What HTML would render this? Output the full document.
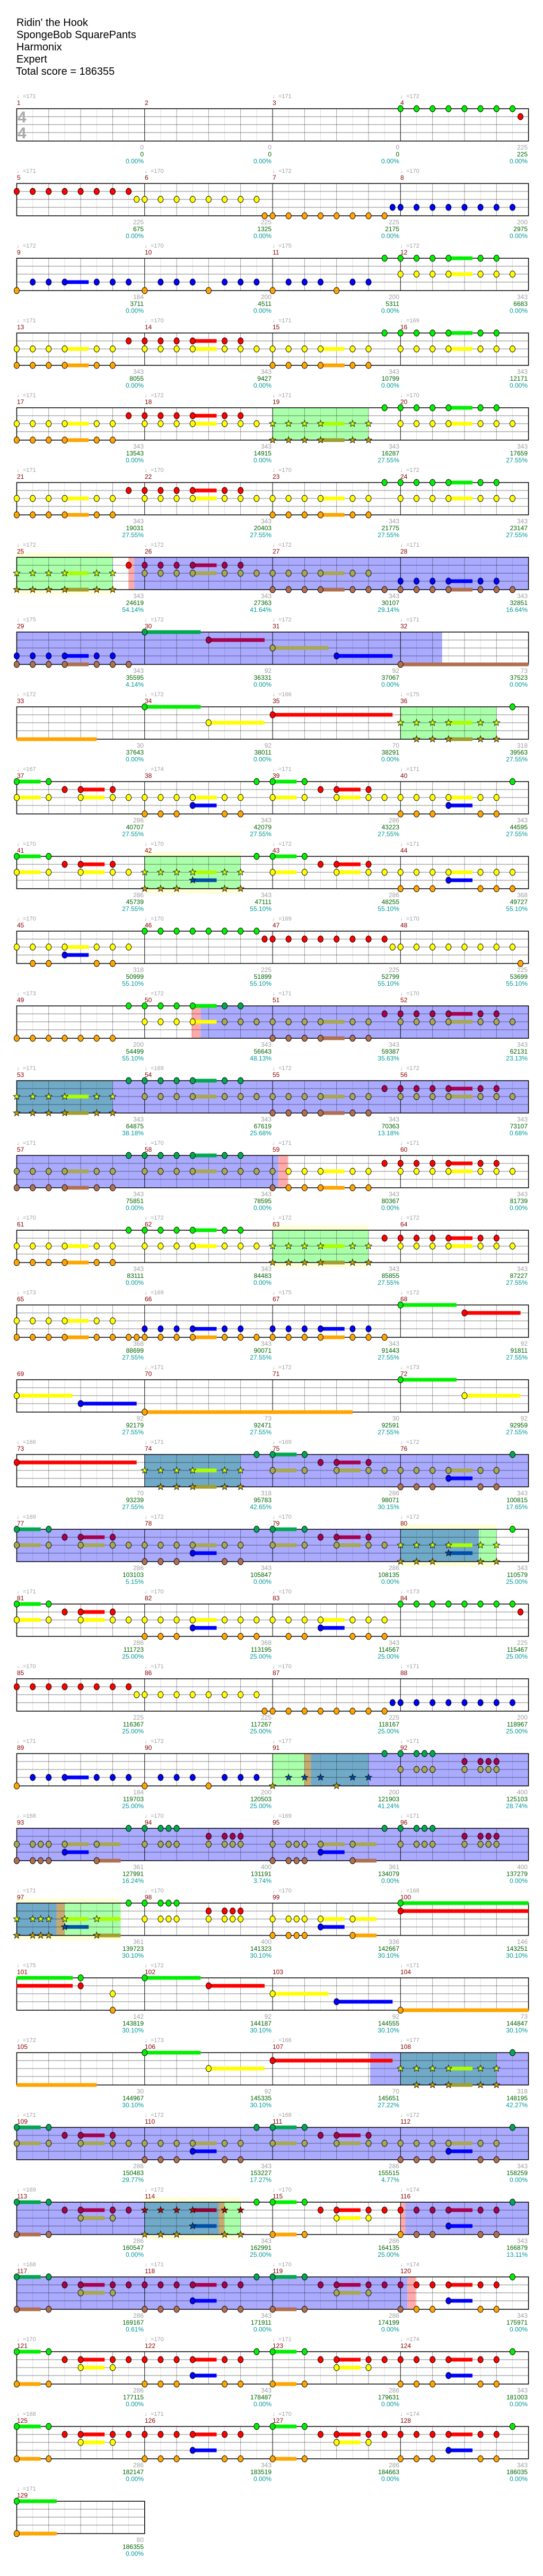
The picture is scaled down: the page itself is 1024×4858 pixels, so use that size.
<!DOCTYPE html>
<html><head><meta charset="utf-8">
<style>
html,body{margin:0;padding:0;background:#fff;}
svg{display:block;}
.h{font-family:"Liberation Sans",sans-serif;font-size:20px;fill:#000;}
.t{font-family:"Liberation Sans","DejaVu Sans",sans-serif;font-size:11px;fill:#a0a0a0;}
.m{font-family:"Liberation Sans",sans-serif;font-size:12px;fill:#8b0000;}
.a{font-family:"Liberation Sans",sans-serif;font-size:12px;fill:#a0a0a0;text-anchor:end;}
.b{font-family:"Liberation Sans",sans-serif;font-size:12px;fill:#006400;text-anchor:end;}
.c{font-family:"Liberation Sans",sans-serif;font-size:12px;fill:#009999;text-anchor:end;}
.ts{font-family:"Liberation Sans",sans-serif;font-size:30px;font-weight:bold;fill:#aaa;}
</style></head><body>
<svg id="s" width="1024" height="4858" xmlns="http://www.w3.org/2000/svg">
<rect width="1024" height="4858" fill="#fff"/>
<g id="dyn"></g>
<text class="h" x="31" y="49">Ridin' the Hook</text>
<text class="h" x="31" y="72">SpongeBob SquarePants</text>
<text class="h" x="31" y="95">Harmonix</text>
<text class="h" x="31" y="118">Expert</text>
<text class="h" x="30" y="141">Total score = 186355</text>
<text class="ts" x="33" y="231">4</text>
<text class="ts" x="33" y="261">4</text>
<g id="txt"></g>
</svg>
<div id="store" style="display:none"></div>
<script>
(function(){
var X0=31.5,W=30.16;
function px(p){return X0+p*W;}
var BGC={B:'#aaaaff',G:'#aaffaa',T:'#70aac8',P:'#ffaaaa',N:'#c8aa70',Y:'#ffffd8'};
var LC=['#00f000','#ff0000','#ffff00','#0000ff','#ffa500'];
var DC=['#00a850','#a8004c','#a8a850','#0000ff','#b07050'];
var SC=['#60e000','#c00000','#d8ff00','#0048a8','#c8a000'];
var SS=['#60e000','#900030','#aaff00','#0050a8','#a0a030'];
var A="y0,1,2,3~4.5,5,6,8,9,10,11~12.5,13,14,15,16,17,18,19~20.5,21,22,24,25,26,27~28.5,29,30,31 b0,1,2,3~4.5,5,6,16,17,18,19~20.5,21,22 r7,8,9,10,11~12.5,13,14 g23,24,25,26,27~28.5,29,30";
var C="y0,1,2,3~4.5,5,6,8,9,10,11~12.5,13,14,15,16,17,18,19~20.5,21,22,24,25,26,27~28.5,29,30,31 b0,1,2,3~4.5,5,6,16,17,18,19~20.5,21,22 g7,8,9,10,11~12.5,13,14 r23,24,25,26,27~28.5,29,30";
var D="g0~1.5,2,15,16~17.5,18,31 r3,4~5.5,6,19,20~21.5,22 y0~1.5,2,4~5.5,6,7,8,9,10,11~12.5,13,14,16~17.5,18,20~21.5,22,23,24,25,26,27~28.5,29,30 b8,9,10,13,14,24,25,26,29,30 o11~12.5,27~28.5";
var E="g0~1.5,2,15,16~17.5,18,31 r3,4~5.5,6,7,8,9,10,11~12.5,13,14,19,20~21.5,22,23,24,25,26,27~28.5,29,30 y4~5.5,6,20~21.5,22 b0~1.5,2,8,9,10,13,14,16~17.5,18,24,25,26,29,30 o11~12.5,27~28.5";
var R1="r0,1,2,3,4,5,6,7 y7.5,8,9,10,11,12,13,14,15 b15.5,16,17,18,19,20,21,22,23 o23.5,24,25,26,27,28,29,30,31";
var R2="b0,8,12,16,20 o1,2,3~4.5,5,6,7,9,10,11,13,14,15,17,18,19,21,22";
var rows=[
 ["g24,25,26,27,28,29,30,31 r31.5",[]],
 [R1,[]],
 [R2+" g23,24,25,26,27~28.5,29,30 y24,25,26,27~28.5,29,30,31",[]],
 [A,[]],
 [A,[['G',16,22]]],
 [A,[]],
 ["y0,1,2,3~4.5,5,6,8,9,10,11~12.5,13,14,15,16,17,18,19~20.5,21,22 b0,1,2,3~4.5,5,6,16,17,18,19~20.5,21,22,23,24,25,26,27~28.5,29,30,31 r7,8,9,10,11~12.5,13,14 o24,25,26,27~28.5,29,30",[['Y',0,6],['G',0,6],['P',7,7.35],['B',7.35,32]]],
 ["b0,1,2,3~4.5,5,6,7,24~32 o0,1,2,3~4.5,5,6,20~23.5 g8~11.5 r12~15.5 y16~19.5",[['B',0,26.6]]],
 ["b-0~5,25,26,27~28.5,29,30 g8~11.5,31 y12~15.5,24,25,26,27~28.5,29,30 r16~23.5",[['G',24,30]]],
 [D,[]],
 ["g0~1.5,2,15,16~17.5,18 r3,4~5.5,6,19,20~21.5,22 y0~1.5,2,4~5.5,6,7,8,9,10,11~12.5,13,14,16~17.5,18,20~21.5,22,23,24,25,26,27~28.5,29,30,31 b8,9,10,13,14,24,25,26,29,30,31 o11~12.5,27~28.5",[['Y',8,14],['G',8,14]]],
 ["y0,1,2,3~4.5,5,6,7,23.5,24,25,26,27,28,29,30,31 b1,2,5,6,31.5 o3~4.5 g8,9,10,11,12,13,14,15 r15.5,16,17,18,19,20,21,22,23",[]],
 ["b0,1,2,3,4,5,6,16,17,18,19~20.5,21,22 y8,9,10,11~12.5,13,14,15,16,17,18,19~20.5,21,22,24,25,26,27~28.5,29,30,31 g7,8,9,10,11~12.5,13,14 r23,24,25,26,27~28.5,29,30",[['P',10.93,11.5],['B',11.5,32]]],
 [C,[['T',0,6],['B',6,32]]],
 [C,[['B',0,16.37],['P',16.37,16.96]]],
 [C,[['Y',16,22],['G',16,22]]],
 ["y0,1,2,3~4.5,5,6 b0,1,2,3~4.5,5,6,7,7.5,8,9,10,11~12.5,13,14,15,16,17,18,19~20.5,21,22,23 o8,9,10,11~12.5,13,14,16,17,18,19~20.5,21,22 g24~27.5 r28~31.5",[]],
 ["y0~3.5,28~31.5 o4~7.5 b8~21 g24~27.5",[]],
 ["r0~7.5,19,20~21.5,22 y8,9,10,11~12.5,13,14,16~17.5,18,20~21.5,22,23,24,25,26,27~28.5,29,30 b9,10,11~12.5,13,14,24,25,26,29,30 g15,16~17.5,18,31 o27~28.5",[['T',8,14],['B',14,32]]],
 [D,[['B',0,24],['Y',24,30],['T',24,28.9],['G',28.9,30]]],
 ["g0~1.5,2,24,25,26,27,28,29,30,31 r3,4~5.5,6,31.5 y0~1.5,2,4~5.5,6,7,8,9,10,11~12.5,13,14,15,16,17,18,19~20.5,21,22,23 b8,9,10,13,14,15,17,18,21,22,23 o11~12.5,19~20.5",[]],
 [R1,[]],
 [R2+" g23,24,25,25.5,26 y24,25,25.5,26,28,29,29.5,30 r28,29,29.5,30",[['G',16,18],['N',18,18.4],['T',18.4,22],['B',22,32]]],
 ["y0,1,1.5,2,3~4.5,5~6.5,8,9,9.5,10,12,13,13.5,14,16,17,17.5,18,19~20.5,21~22.5,24,25,25.5,26,28,29,29.5,30 b0,1,1.5,2,5~6.5,16,17,17.5,18,21~22.5 g7,8,9,9.5,10,23,24,25,25.5,26 r12,13,13.5,14,28,29,29.5,30 o3~4.5,19~20.5",[['B',0,32]]],
 ["y0,1,1.5,2,3~4.5,5~6.5,8,9,9.5,10,12,13,13.5,14,16,17,17.5,18,19~20.5,21~22.5 b0,1,1.5,2,5~6.5,16,17,17.5,18,21~22.5 o3~4.5,19~20.5 g7,8,9,9.5,10,24~32 r12,13,13.5,14,24~32",[['Y',0,6.5],['T',0,2.5],['N',2.5,3],['G',3,6.5]]],
 ["g-0~3.5,4,8~11.5 r-0~3.5,4,12~15.5 y6,16~19.5 b6,24~32 o20~23.5",[]],
 ["b-0~5,25,26,27~28.5,29,30 g8~11.5,31 y12~15.5,24,25,26,27~28.5,29,30 r16~23.5",[['B',22.1,24],['T',24,30],['B',30,32]]],
 [D,[['B',0,32]]],
 [E,[['B',0,8],['Y',8,14],['T',8,12.63],['N',12.63,12.98],['G',12.98,14],['P',24,24.3],['B',24.3,32]]],
 [E,[['B',0,24.43],['P',24.43,24.96]]],
 [E,[]],
 [E,[]],
 ["g0~2.5 b0~2.5",[]]
];
function star(cx,cy,r){var s='';for(var i=0;i<10;i++){var a=-Math.PI/2+i*Math.PI/5;var rr=i%2?r*0.42:r;s+=(cx+rr*Math.cos(a)).toFixed(1)+','+(cy+rr*Math.sin(a)).toFixed(1)+' ';}return s;}
var out=[];
rows.forEach(function(row,k){
 var T=205+141*k, end=(k==32)?8:32, bgs=row[1];
 var x1=px(end);
 bgs.forEach(function(b){ if(b[0]=='Y') out.push('<rect x="'+px(b[1])+'" y="'+(T-9)+'" width="'+(px(b[2])-px(b[1]))+'" height="79" fill="'+BGC.Y+'"/>');});
 bgs.forEach(function(b){ if(b[0]!='Y') out.push('<rect x="'+px(b[1])+'" y="'+T+'" width="'+(px(b[2])-px(b[1]))+'" height="61" fill="'+BGC[b[0]]+'"/>');});
 for(var i=1;i<end;i++){var x=px(i).toFixed(1);
  if(i%8==0) out.push('<line x1="'+x+'" y1="'+T+'" x2="'+x+'" y2="'+(T+61)+'" stroke="#000" stroke-width="1"/>');
  else if(i%2==0) out.push('<line x1="'+x+'" y1="'+T+'" x2="'+x+'" y2="'+(T+61)+'" stroke="rgba(0,0,0,0.38)" stroke-width="1"/>');
  else out.push('<line x1="'+x+'" y1="'+T+'" x2="'+x+'" y2="'+(T+61)+'" stroke="rgba(0,0,0,0.12)" stroke-width="1"/>');}
 [15,30,45].forEach(function(d){out.push('<line x1="'+X0+'" y1="'+(T+d)+'" x2="'+x1+'" y2="'+(T+d)+'" stroke="rgba(0,0,0,0.38)" stroke-width="1.3"/>');});
 out.push('<rect x="'+X0+'" y="'+T+'" width="'+(x1-X0)+'" height="61" fill="none" stroke="#000" stroke-width="1.5"/>');
 function isStar(p){for(var j=0;j<bgs.length;j++){var b=bgs[j];if((b[0]=='G'||b[0]=='T'||b[0]=='N')&&p>=b[1]-0.05&&p<=b[2]+0.05)return true;}return false;}
 function isDark(p){for(var j=0;j<bgs.length;j++){var b=bgs[j];if((b[0]=='B'||b[0]=='T'||b[0]=='N')&&p>=b[1]&&p<b[2])return true;}return false;}
 var sus=[],heads=[];
 row[0].split(' ').forEach(function(grp){
  var L='gryob'.indexOf(grp[0]); var ly=T+[0,15,30,45,61][L];
  grp.slice(1).split(',').forEach(function(it){
   var nohead=false; if(it[0]=='-'){nohead=true;it=it.slice(1);}
   var parts=it.split('~'); var p=parseFloat(parts[0]);
   var st=isStar(p), dk=!st&&isDark(p);
   if(parts.length>1){var e=parseFloat(parts[1]);
    var col=st?SS[L]:(dk?DC[L]:LC[L]);
    sus.push('<rect x="'+px(p).toFixed(1)+'" y="'+(ly-3.5)+'" width="'+(px(e)-px(p)).toFixed(1)+'" height="7" fill="'+col+'"/>');}
   if(!nohead){var cx=px(p);
    if(st) heads.push('<polygon points="'+star(cx,ly,6.5)+'" fill="'+SC[L]+'" stroke="#000" stroke-width="0.8"/>');
    else heads.push('<ellipse cx="'+cx.toFixed(1)+'" cy="'+ly+'" rx="5" ry="6" fill="'+(dk?DC[L]:LC[L])+'" stroke="#000" stroke-width="0.9"/>');}
  });
 });
 out.push(sus.join(''));out.push(heads.join(''));
});
document.getElementById('dyn').innerHTML=out.join('');
})();
</script>
<svg width="0" height="0" style="position:absolute"></svg>
<script>
// move static text group onto the main svg (text is authored statically below)
</script>
<svg width="1024" height="4858" style="position:absolute;left:0;top:0" xmlns="http://www.w3.org/2000/svg">
<style>
.t{font-family:"Liberation Sans","DejaVu Sans",sans-serif;font-size:11px;fill:#a0a0a0;}
.m{font-family:"Liberation Sans",sans-serif;font-size:12px;fill:#8b0000;}
.a{font-family:"Liberation Sans",sans-serif;font-size:12px;fill:#a0a0a0;text-anchor:end;}
.b{font-family:"Liberation Sans",sans-serif;font-size:12px;fill:#006400;text-anchor:end;}
.c{font-family:"Liberation Sans",sans-serif;font-size:12px;fill:#009999;text-anchor:end;}
</style>
<g>
<text class="t" x="32" y="185">♩=171</text><text class="t" x="514" y="185">♩=171</text><text class="t" x="755" y="185">♩=172</text>
<text class="m" x="32" y="198">1</text><text class="m" x="273" y="198">2</text><text class="m" x="514" y="198">3</text><text class="m" x="755" y="198">4</text>
<text class="a" x="271" y="282">0</text><text class="a" x="512" y="282">0</text><text class="a" x="753" y="282">0</text><text class="a" x="995" y="282">225</text>
<text class="b" x="271" y="295">0</text><text class="b" x="512" y="295">0</text><text class="b" x="753" y="295">0</text><text class="b" x="995" y="295">225</text>
<text class="c" x="271" y="308">0.00%</text><text class="c" x="512" y="308">0.00%</text><text class="c" x="753" y="308">0.00%</text><text class="c" x="995" y="308">0.00%</text>
</g>
<g transform="translate(0,141)">
<text class="t" x="32" y="185">♩=171</text><text class="t" x="273" y="185">♩=170</text><text class="t" x="514" y="185">♩=172</text><text class="t" x="755" y="185">♩=170</text>
<text class="m" x="32" y="198">5</text><text class="m" x="273" y="198">6</text><text class="m" x="514" y="198">7</text><text class="m" x="755" y="198">8</text>
<text class="a" x="271" y="282">225</text><text class="a" x="512" y="282">225</text><text class="a" x="753" y="282">225</text><text class="a" x="995" y="282">200</text>
<text class="b" x="271" y="295">675</text><text class="b" x="512" y="295">1325</text><text class="b" x="753" y="295">2175</text><text class="b" x="995" y="295">2975</text>
<text class="c" x="271" y="308">0.00%</text><text class="c" x="512" y="308">0.00%</text><text class="c" x="753" y="308">0.00%</text><text class="c" x="995" y="308">0.00%</text>
</g>
<g transform="translate(0,282)">
<text class="t" x="32" y="185">♩=172</text><text class="t" x="273" y="185">♩=170</text><text class="t" x="514" y="185">♩=175</text><text class="t" x="755" y="185">♩=172</text>
<text class="m" x="32" y="198">9</text><text class="m" x="273" y="198">10</text><text class="m" x="514" y="198">11</text><text class="m" x="755" y="198">12</text>
<text class="a" x="271" y="282">184</text><text class="a" x="512" y="282">200</text><text class="a" x="753" y="282">200</text><text class="a" x="995" y="282">343</text>
<text class="b" x="271" y="295">3711</text><text class="b" x="512" y="295">4511</text><text class="b" x="753" y="295">5311</text><text class="b" x="995" y="295">6683</text>
<text class="c" x="271" y="308">0.00%</text><text class="c" x="512" y="308">0.00%</text><text class="c" x="753" y="308">0.00%</text><text class="c" x="995" y="308">0.00%</text>
</g>
<g transform="translate(0,423)">
<text class="t" x="32" y="185">♩=171</text><text class="t" x="273" y="185">♩=170</text><text class="t" x="514" y="185">♩=171</text><text class="t" x="755" y="185">♩=169</text>
<text class="m" x="32" y="198">13</text><text class="m" x="273" y="198">14</text><text class="m" x="514" y="198">15</text><text class="m" x="755" y="198">16</text>
<text class="a" x="271" y="282">343</text><text class="a" x="512" y="282">343</text><text class="a" x="753" y="282">343</text><text class="a" x="995" y="282">343</text>
<text class="b" x="271" y="295">8055</text><text class="b" x="512" y="295">9427</text><text class="b" x="753" y="295">10799</text><text class="b" x="995" y="295">12171</text>
<text class="c" x="271" y="308">0.00%</text><text class="c" x="512" y="308">0.00%</text><text class="c" x="753" y="308">0.00%</text><text class="c" x="995" y="308">0.00%</text>
</g>
<g transform="translate(0,564)">
<text class="t" x="32" y="185">♩=171</text><text class="t" x="273" y="185">♩=172</text><text class="t" x="514" y="185">♩=171</text><text class="t" x="755" y="185">♩=170</text>
<text class="m" x="32" y="198">17</text><text class="m" x="273" y="198">18</text><text class="m" x="514" y="198">19</text><text class="m" x="755" y="198">20</text>
<text class="a" x="271" y="282">343</text><text class="a" x="512" y="282">343</text><text class="a" x="753" y="282">343</text><text class="a" x="995" y="282">343</text>
<text class="b" x="271" y="295">13543</text><text class="b" x="512" y="295">14915</text><text class="b" x="753" y="295">16287</text><text class="b" x="995" y="295">17659</text>
<text class="c" x="271" y="308">0.00%</text><text class="c" x="512" y="308">0.00%</text><text class="c" x="753" y="308">27.55%</text><text class="c" x="995" y="308">27.55%</text>
</g>
<g transform="translate(0,705)">
<text class="t" x="32" y="185">♩=171</text><text class="t" x="273" y="185">♩=170</text><text class="t" x="514" y="185">♩=170</text><text class="t" x="755" y="185">♩=172</text>
<text class="m" x="32" y="198">21</text><text class="m" x="273" y="198">22</text><text class="m" x="514" y="198">23</text><text class="m" x="755" y="198">24</text>
<text class="a" x="271" y="282">343</text><text class="a" x="512" y="282">343</text><text class="a" x="753" y="282">343</text><text class="a" x="995" y="282">343</text>
<text class="b" x="271" y="295">19031</text><text class="b" x="512" y="295">20403</text><text class="b" x="753" y="295">21775</text><text class="b" x="995" y="295">23147</text>
<text class="c" x="271" y="308">27.55%</text><text class="c" x="512" y="308">27.55%</text><text class="c" x="753" y="308">27.55%</text><text class="c" x="995" y="308">27.55%</text>
</g>
<g transform="translate(0,846)">
<text class="t" x="32" y="185">♩=172</text><text class="t" x="273" y="185">♩=172</text><text class="t" x="514" y="185">♩=172</text><text class="t" x="755" y="185">♩=171</text>
<text class="m" x="32" y="198">25</text><text class="m" x="273" y="198">26</text><text class="m" x="514" y="198">27</text><text class="m" x="755" y="198">28</text>
<text class="a" x="271" y="282">343</text><text class="a" x="512" y="282">343</text><text class="a" x="753" y="282">343</text><text class="a" x="995" y="282">343</text>
<text class="b" x="271" y="295">24619</text><text class="b" x="512" y="295">27363</text><text class="b" x="753" y="295">30107</text><text class="b" x="995" y="295">32851</text>
<text class="c" x="271" y="308">54.14%</text><text class="c" x="512" y="308">41.64%</text><text class="c" x="753" y="308">29.14%</text><text class="c" x="995" y="308">16.64%</text>
</g>
<g transform="translate(0,987)">
<text class="t" x="32" y="185">♩=175</text><text class="t" x="273" y="185">♩=172</text><text class="t" x="514" y="185">♩=172</text><text class="t" x="755" y="185">♩=171</text>
<text class="m" x="32" y="198">29</text><text class="m" x="273" y="198">30</text><text class="m" x="514" y="198">31</text><text class="m" x="755" y="198">32</text>
<text class="a" x="271" y="282">343</text><text class="a" x="512" y="282">92</text><text class="a" x="753" y="282">92</text><text class="a" x="995" y="282">73</text>
<text class="b" x="271" y="295">35595</text><text class="b" x="512" y="295">36331</text><text class="b" x="753" y="295">37067</text><text class="b" x="995" y="295">37523</text>
<text class="c" x="271" y="308">4.14%</text><text class="c" x="512" y="308">0.00%</text><text class="c" x="753" y="308">0.00%</text><text class="c" x="995" y="308">0.00%</text>
</g>
<g transform="translate(0,1128)">
<text class="t" x="32" y="185">♩=172</text><text class="t" x="273" y="185">♩=172</text><text class="t" x="514" y="185">♩=166</text><text class="t" x="755" y="185">♩=175</text>
<text class="m" x="32" y="198">33</text><text class="m" x="273" y="198">34</text><text class="m" x="514" y="198">35</text><text class="m" x="755" y="198">36</text>
<text class="a" x="271" y="282">30</text><text class="a" x="512" y="282">92</text><text class="a" x="753" y="282">70</text><text class="a" x="995" y="282">318</text>
<text class="b" x="271" y="295">37643</text><text class="b" x="512" y="295">38011</text><text class="b" x="753" y="295">38291</text><text class="b" x="995" y="295">39563</text>
<text class="c" x="271" y="308">0.00%</text><text class="c" x="512" y="308">0.00%</text><text class="c" x="753" y="308">0.00%</text><text class="c" x="995" y="308">27.55%</text>
</g>
<g transform="translate(0,1269)">
<text class="t" x="32" y="185">♩=167</text><text class="t" x="273" y="185">♩=174</text><text class="t" x="514" y="185">♩=171</text><text class="t" x="755" y="185">♩=171</text>
<text class="m" x="32" y="198">37</text><text class="m" x="273" y="198">38</text><text class="m" x="514" y="198">39</text><text class="m" x="755" y="198">40</text>
<text class="a" x="271" y="282">286</text><text class="a" x="512" y="282">343</text><text class="a" x="753" y="282">286</text><text class="a" x="995" y="282">343</text>
<text class="b" x="271" y="295">40707</text><text class="b" x="512" y="295">42079</text><text class="b" x="753" y="295">43223</text><text class="b" x="995" y="295">44595</text>
<text class="c" x="271" y="308">27.55%</text><text class="c" x="512" y="308">27.55%</text><text class="c" x="753" y="308">27.55%</text><text class="c" x="995" y="308">27.55%</text>
</g>
<g transform="translate(0,1410)">
<text class="t" x="32" y="185">♩=170</text><text class="t" x="273" y="185">♩=170</text><text class="t" x="514" y="185">♩=172</text><text class="t" x="755" y="185">♩=171</text>
<text class="m" x="32" y="198">41</text><text class="m" x="273" y="198">42</text><text class="m" x="514" y="198">43</text><text class="m" x="755" y="198">44</text>
<text class="a" x="271" y="282">286</text><text class="a" x="512" y="282">343</text><text class="a" x="753" y="282">286</text><text class="a" x="995" y="282">368</text>
<text class="b" x="271" y="295">45739</text><text class="b" x="512" y="295">47111</text><text class="b" x="753" y="295">48255</text><text class="b" x="995" y="295">49727</text>
<text class="c" x="271" y="308">27.55%</text><text class="c" x="512" y="308">55.10%</text><text class="c" x="753" y="308">55.10%</text><text class="c" x="995" y="308">55.10%</text>
</g>
<g transform="translate(0,1551)">
<text class="t" x="32" y="185">♩=170</text><text class="t" x="273" y="185">♩=170</text><text class="t" x="514" y="185">♩=169</text><text class="t" x="755" y="185">♩=170</text>
<text class="m" x="32" y="198">45</text><text class="m" x="273" y="198">46</text><text class="m" x="514" y="198">47</text><text class="m" x="755" y="198">48</text>
<text class="a" x="271" y="282">318</text><text class="a" x="512" y="282">225</text><text class="a" x="753" y="282">225</text><text class="a" x="995" y="282">225</text>
<text class="b" x="271" y="295">50999</text><text class="b" x="512" y="295">51899</text><text class="b" x="753" y="295">52799</text><text class="b" x="995" y="295">53699</text>
<text class="c" x="271" y="308">55.10%</text><text class="c" x="512" y="308">55.10%</text><text class="c" x="753" y="308">55.10%</text><text class="c" x="995" y="308">55.10%</text>
</g>
<g transform="translate(0,1692)">
<text class="t" x="32" y="185">♩=173</text><text class="t" x="273" y="185">♩=172</text><text class="t" x="514" y="185">♩=171</text><text class="t" x="755" y="185">♩=170</text>
<text class="m" x="32" y="198">49</text><text class="m" x="273" y="198">50</text><text class="m" x="514" y="198">51</text><text class="m" x="755" y="198">52</text>
<text class="a" x="271" y="282">200</text><text class="a" x="512" y="282">343</text><text class="a" x="753" y="282">343</text><text class="a" x="995" y="282">343</text>
<text class="b" x="271" y="295">54499</text><text class="b" x="512" y="295">56643</text><text class="b" x="753" y="295">59387</text><text class="b" x="995" y="295">62131</text>
<text class="c" x="271" y="308">55.10%</text><text class="c" x="512" y="308">48.13%</text><text class="c" x="753" y="308">35.63%</text><text class="c" x="995" y="308">23.13%</text>
</g>
<g transform="translate(0,1833)">
<text class="t" x="32" y="185">♩=171</text><text class="t" x="273" y="185">♩=169</text><text class="t" x="514" y="185">♩=172</text><text class="t" x="755" y="185">♩=172</text>
<text class="m" x="32" y="198">53</text><text class="m" x="273" y="198">54</text><text class="m" x="514" y="198">55</text><text class="m" x="755" y="198">56</text>
<text class="a" x="271" y="282">343</text><text class="a" x="512" y="282">343</text><text class="a" x="753" y="282">343</text><text class="a" x="995" y="282">343</text>
<text class="b" x="271" y="295">64875</text><text class="b" x="512" y="295">67619</text><text class="b" x="753" y="295">70363</text><text class="b" x="995" y="295">73107</text>
<text class="c" x="271" y="308">38.18%</text><text class="c" x="512" y="308">25.68%</text><text class="c" x="753" y="308">13.18%</text><text class="c" x="995" y="308">0.68%</text>
</g>
<g transform="translate(0,1974)">
<text class="t" x="32" y="185">♩=171</text><text class="t" x="273" y="185">♩=170</text><text class="t" x="514" y="185">♩=171</text><text class="t" x="755" y="185">♩=171</text>
<text class="m" x="32" y="198">57</text><text class="m" x="273" y="198">58</text><text class="m" x="514" y="198">59</text><text class="m" x="755" y="198">60</text>
<text class="a" x="271" y="282">343</text><text class="a" x="512" y="282">343</text><text class="a" x="753" y="282">343</text><text class="a" x="995" y="282">343</text>
<text class="b" x="271" y="295">75851</text><text class="b" x="512" y="295">78595</text><text class="b" x="753" y="295">80367</text><text class="b" x="995" y="295">81739</text>
<text class="c" x="271" y="308">0.00%</text><text class="c" x="512" y="308">0.00%</text><text class="c" x="753" y="308">0.00%</text><text class="c" x="995" y="308">0.00%</text>
</g>
<g transform="translate(0,2115)">
<text class="t" x="32" y="185">♩=170</text><text class="t" x="273" y="185">♩=172</text><text class="t" x="514" y="185">♩=172</text><text class="t" x="755" y="185">♩=172</text>
<text class="m" x="32" y="198">61</text><text class="m" x="273" y="198">62</text><text class="m" x="514" y="198">63</text><text class="m" x="755" y="198">64</text>
<text class="a" x="271" y="282">343</text><text class="a" x="512" y="282">343</text><text class="a" x="753" y="282">343</text><text class="a" x="995" y="282">343</text>
<text class="b" x="271" y="295">83111</text><text class="b" x="512" y="295">84483</text><text class="b" x="753" y="295">85855</text><text class="b" x="995" y="295">87227</text>
<text class="c" x="271" y="308">0.00%</text><text class="c" x="512" y="308">0.00%</text><text class="c" x="753" y="308">27.55%</text><text class="c" x="995" y="308">27.55%</text>
</g>
<g transform="translate(0,2256)">
<text class="t" x="32" y="185">♩=173</text><text class="t" x="273" y="185">♩=169</text><text class="t" x="514" y="185">♩=175</text><text class="t" x="755" y="185">♩=172</text>
<text class="m" x="32" y="198">65</text><text class="m" x="273" y="198">66</text><text class="m" x="514" y="198">67</text><text class="m" x="755" y="198">68</text>
<text class="a" x="271" y="282">368</text><text class="a" x="512" y="282">343</text><text class="a" x="753" y="282">343</text><text class="a" x="995" y="282">92</text>
<text class="b" x="271" y="295">88699</text><text class="b" x="512" y="295">90071</text><text class="b" x="753" y="295">91443</text><text class="b" x="995" y="295">91811</text>
<text class="c" x="271" y="308">27.55%</text><text class="c" x="512" y="308">27.55%</text><text class="c" x="753" y="308">27.55%</text><text class="c" x="995" y="308">27.55%</text>
</g>
<g transform="translate(0,2397)">
<text class="t" x="273" y="185">♩=171</text><text class="t" x="514" y="185">♩=172</text><text class="t" x="755" y="185">♩=173</text>
<text class="m" x="32" y="198">69</text><text class="m" x="273" y="198">70</text><text class="m" x="514" y="198">71</text><text class="m" x="755" y="198">72</text>
<text class="a" x="271" y="282">92</text><text class="a" x="512" y="282">73</text><text class="a" x="753" y="282">30</text><text class="a" x="995" y="282">92</text>
<text class="b" x="271" y="295">92179</text><text class="b" x="512" y="295">92471</text><text class="b" x="753" y="295">92591</text><text class="b" x="995" y="295">92959</text>
<text class="c" x="271" y="308">27.55%</text><text class="c" x="512" y="308">27.55%</text><text class="c" x="753" y="308">27.55%</text><text class="c" x="995" y="308">27.55%</text>
</g>
<g transform="translate(0,2538)">
<text class="t" x="32" y="185">♩=166</text><text class="t" x="273" y="185">♩=171</text><text class="t" x="514" y="185">♩=169</text><text class="t" x="755" y="185">♩=172</text>
<text class="m" x="32" y="198">73</text><text class="m" x="273" y="198">74</text><text class="m" x="514" y="198">75</text><text class="m" x="755" y="198">76</text>
<text class="a" x="271" y="282">70</text><text class="a" x="512" y="282">318</text><text class="a" x="753" y="282">286</text><text class="a" x="995" y="282">343</text>
<text class="b" x="271" y="295">93239</text><text class="b" x="512" y="295">95783</text><text class="b" x="753" y="295">98071</text><text class="b" x="995" y="295">100815</text>
<text class="c" x="271" y="308">27.55%</text><text class="c" x="512" y="308">42.65%</text><text class="c" x="753" y="308">30.15%</text><text class="c" x="995" y="308">17.65%</text>
</g>
<g transform="translate(0,2679)">
<text class="t" x="32" y="185">♩=169</text><text class="t" x="273" y="185">♩=172</text><text class="t" x="514" y="185">♩=170</text><text class="t" x="755" y="185">♩=172</text>
<text class="m" x="32" y="198">77</text><text class="m" x="273" y="198">78</text><text class="m" x="514" y="198">79</text><text class="m" x="755" y="198">80</text>
<text class="a" x="271" y="282">286</text><text class="a" x="512" y="282">343</text><text class="a" x="753" y="282">286</text><text class="a" x="995" y="282">343</text>
<text class="b" x="271" y="295">103103</text><text class="b" x="512" y="295">105847</text><text class="b" x="753" y="295">108135</text><text class="b" x="995" y="295">110579</text>
<text class="c" x="271" y="308">5.15%</text><text class="c" x="512" y="308">0.00%</text><text class="c" x="753" y="308">0.00%</text><text class="c" x="995" y="308">25.00%</text>
</g>
<g transform="translate(0,2820)">
<text class="t" x="32" y="185">♩=171</text><text class="t" x="273" y="185">♩=170</text><text class="t" x="514" y="185">♩=170</text><text class="t" x="755" y="185">♩=173</text>
<text class="m" x="32" y="198">81</text><text class="m" x="273" y="198">82</text><text class="m" x="514" y="198">83</text><text class="m" x="755" y="198">84</text>
<text class="a" x="271" y="282">286</text><text class="a" x="512" y="282">368</text><text class="a" x="753" y="282">343</text><text class="a" x="995" y="282">225</text>
<text class="b" x="271" y="295">111723</text><text class="b" x="512" y="295">113195</text><text class="b" x="753" y="295">114567</text><text class="b" x="995" y="295">115467</text>
<text class="c" x="271" y="308">25.00%</text><text class="c" x="512" y="308">25.00%</text><text class="c" x="753" y="308">25.00%</text><text class="c" x="995" y="308">25.00%</text>
</g>
<g transform="translate(0,2961)">
<text class="t" x="32" y="185">♩=170</text><text class="t" x="273" y="185">♩=171</text><text class="t" x="514" y="185">♩=170</text><text class="t" x="755" y="185">♩=171</text>
<text class="m" x="32" y="198">85</text><text class="m" x="273" y="198">86</text><text class="m" x="514" y="198">87</text><text class="m" x="755" y="198">88</text>
<text class="a" x="271" y="282">225</text><text class="a" x="512" y="282">225</text><text class="a" x="753" y="282">225</text><text class="a" x="995" y="282">200</text>
<text class="b" x="271" y="295">116367</text><text class="b" x="512" y="295">117267</text><text class="b" x="753" y="295">118167</text><text class="b" x="995" y="295">118967</text>
<text class="c" x="271" y="308">25.00%</text><text class="c" x="512" y="308">25.00%</text><text class="c" x="753" y="308">25.00%</text><text class="c" x="995" y="308">25.00%</text>
</g>
<g transform="translate(0,3102)">
<text class="t" x="32" y="185">♩=171</text><text class="t" x="273" y="185">♩=172</text><text class="t" x="514" y="185">♩=177</text><text class="t" x="755" y="185">♩=171</text>
<text class="m" x="32" y="198">89</text><text class="m" x="273" y="198">90</text><text class="m" x="514" y="198">91</text><text class="m" x="755" y="198">92</text>
<text class="a" x="271" y="282">184</text><text class="a" x="512" y="282">200</text><text class="a" x="753" y="282">200</text><text class="a" x="995" y="282">400</text>
<text class="b" x="271" y="295">119703</text><text class="b" x="512" y="295">120503</text><text class="b" x="753" y="295">121903</text><text class="b" x="995" y="295">125103</text>
<text class="c" x="271" y="308">25.00%</text><text class="c" x="512" y="308">25.00%</text><text class="c" x="753" y="308">41.24%</text><text class="c" x="995" y="308">28.74%</text>
</g>
<g transform="translate(0,3243)">
<text class="t" x="32" y="185">♩=168</text><text class="t" x="273" y="185">♩=170</text><text class="t" x="514" y="185">♩=169</text><text class="t" x="755" y="185">♩=171</text>
<text class="m" x="32" y="198">93</text><text class="m" x="273" y="198">94</text><text class="m" x="514" y="198">95</text><text class="m" x="755" y="198">96</text>
<text class="a" x="271" y="282">361</text><text class="a" x="512" y="282">400</text><text class="a" x="753" y="282">361</text><text class="a" x="995" y="282">400</text>
<text class="b" x="271" y="295">127991</text><text class="b" x="512" y="295">131191</text><text class="b" x="753" y="295">134079</text><text class="b" x="995" y="295">137279</text>
<text class="c" x="271" y="308">16.24%</text><text class="c" x="512" y="308">3.74%</text><text class="c" x="753" y="308">0.00%</text><text class="c" x="995" y="308">0.00%</text>
</g>
<g transform="translate(0,3384)">
<text class="t" x="32" y="185">♩=171</text><text class="t" x="273" y="185">♩=170</text><text class="t" x="514" y="185">♩=170</text><text class="t" x="755" y="185">♩=168</text>
<text class="m" x="32" y="198">97</text><text class="m" x="273" y="198">98</text><text class="m" x="514" y="198">99</text><text class="m" x="755" y="198">100</text>
<text class="a" x="271" y="282">361</text><text class="a" x="512" y="282">400</text><text class="a" x="753" y="282">336</text><text class="a" x="995" y="282">146</text>
<text class="b" x="271" y="295">139723</text><text class="b" x="512" y="295">141323</text><text class="b" x="753" y="295">142667</text><text class="b" x="995" y="295">143251</text>
<text class="c" x="271" y="308">30.10%</text><text class="c" x="512" y="308">30.10%</text><text class="c" x="753" y="308">30.10%</text><text class="c" x="995" y="308">30.10%</text>
</g>
<g transform="translate(0,3525)">
<text class="t" x="32" y="185">♩=175</text><text class="t" x="273" y="185">♩=172</text><text class="t" x="755" y="185">♩=171</text>
<text class="m" x="32" y="198">101</text><text class="m" x="273" y="198">102</text><text class="m" x="514" y="198">103</text><text class="m" x="755" y="198">104</text>
<text class="a" x="271" y="282">142</text><text class="a" x="512" y="282">92</text><text class="a" x="753" y="282">92</text><text class="a" x="995" y="282">73</text>
<text class="b" x="271" y="295">143819</text><text class="b" x="512" y="295">144187</text><text class="b" x="753" y="295">144555</text><text class="b" x="995" y="295">144847</text>
<text class="c" x="271" y="308">30.10%</text><text class="c" x="512" y="308">30.10%</text><text class="c" x="753" y="308">30.10%</text><text class="c" x="995" y="308">30.10%</text>
</g>
<g transform="translate(0,3666)">
<text class="t" x="32" y="185">♩=172</text><text class="t" x="273" y="185">♩=173</text><text class="t" x="514" y="185">♩=166</text><text class="t" x="755" y="185">♩=177</text>
<text class="m" x="32" y="198">105</text><text class="m" x="273" y="198">106</text><text class="m" x="514" y="198">107</text><text class="m" x="755" y="198">108</text>
<text class="a" x="271" y="282">30</text><text class="a" x="512" y="282">92</text><text class="a" x="753" y="282">70</text><text class="a" x="995" y="282">318</text>
<text class="b" x="271" y="295">144967</text><text class="b" x="512" y="295">145335</text><text class="b" x="753" y="295">145651</text><text class="b" x="995" y="295">148195</text>
<text class="c" x="271" y="308">30.10%</text><text class="c" x="512" y="308">30.10%</text><text class="c" x="753" y="308">27.22%</text><text class="c" x="995" y="308">42.27%</text>
</g>
<g transform="translate(0,3807)">
<text class="t" x="32" y="185">♩=171</text><text class="t" x="273" y="185">♩=172</text><text class="t" x="514" y="185">♩=168</text><text class="t" x="755" y="185">♩=172</text>
<text class="m" x="32" y="198">109</text><text class="m" x="273" y="198">110</text><text class="m" x="514" y="198">111</text><text class="m" x="755" y="198">112</text>
<text class="a" x="271" y="282">286</text><text class="a" x="512" y="282">343</text><text class="a" x="753" y="282">286</text><text class="a" x="995" y="282">343</text>
<text class="b" x="271" y="295">150483</text><text class="b" x="512" y="295">153227</text><text class="b" x="753" y="295">155515</text><text class="b" x="995" y="295">158259</text>
<text class="c" x="271" y="308">29.77%</text><text class="c" x="512" y="308">17.27%</text><text class="c" x="753" y="308">4.77%</text><text class="c" x="995" y="308">0.00%</text>
</g>
<g transform="translate(0,3948)">
<text class="t" x="32" y="185">♩=169</text><text class="t" x="273" y="185">♩=172</text><text class="t" x="514" y="185">♩=170</text><text class="t" x="755" y="185">♩=174</text>
<text class="m" x="32" y="198">113</text><text class="m" x="273" y="198">114</text><text class="m" x="514" y="198">115</text><text class="m" x="755" y="198">116</text>
<text class="a" x="271" y="282">286</text><text class="a" x="512" y="282">343</text><text class="a" x="753" y="282">286</text><text class="a" x="995" y="282">343</text>
<text class="b" x="271" y="295">160547</text><text class="b" x="512" y="295">162991</text><text class="b" x="753" y="295">164135</text><text class="b" x="995" y="295">166879</text>
<text class="c" x="271" y="308">0.00%</text><text class="c" x="512" y="308">25.00%</text><text class="c" x="753" y="308">25.00%</text><text class="c" x="995" y="308">13.11%</text>
</g>
<g transform="translate(0,4089)">
<text class="t" x="32" y="185">♩=168</text><text class="t" x="273" y="185">♩=171</text><text class="t" x="514" y="185">♩=170</text><text class="t" x="755" y="185">♩=174</text>
<text class="m" x="32" y="198">117</text><text class="m" x="273" y="198">118</text><text class="m" x="514" y="198">119</text><text class="m" x="755" y="198">120</text>
<text class="a" x="271" y="282">286</text><text class="a" x="512" y="282">343</text><text class="a" x="753" y="282">286</text><text class="a" x="995" y="282">343</text>
<text class="b" x="271" y="295">169167</text><text class="b" x="512" y="295">171911</text><text class="b" x="753" y="295">174199</text><text class="b" x="995" y="295">175971</text>
<text class="c" x="271" y="308">0.61%</text><text class="c" x="512" y="308">0.00%</text><text class="c" x="753" y="308">0.00%</text><text class="c" x="995" y="308">0.00%</text>
</g>
<g transform="translate(0,4230)">
<text class="t" x="32" y="185">♩=170</text><text class="t" x="273" y="185">♩=170</text><text class="t" x="514" y="185">♩=171</text><text class="t" x="755" y="185">♩=174</text>
<text class="m" x="32" y="198">121</text><text class="m" x="273" y="198">122</text><text class="m" x="514" y="198">123</text><text class="m" x="755" y="198">124</text>
<text class="a" x="271" y="282">286</text><text class="a" x="512" y="282">343</text><text class="a" x="753" y="282">286</text><text class="a" x="995" y="282">343</text>
<text class="b" x="271" y="295">177115</text><text class="b" x="512" y="295">178487</text><text class="b" x="753" y="295">179631</text><text class="b" x="995" y="295">181003</text>
<text class="c" x="271" y="308">0.00%</text><text class="c" x="512" y="308">0.00%</text><text class="c" x="753" y="308">0.00%</text><text class="c" x="995" y="308">0.00%</text>
</g>
<g transform="translate(0,4371)">
<text class="t" x="32" y="185">♩=168</text><text class="t" x="273" y="185">♩=171</text><text class="t" x="514" y="185">♩=170</text><text class="t" x="755" y="185">♩=174</text>
<text class="m" x="32" y="198">125</text><text class="m" x="273" y="198">126</text><text class="m" x="514" y="198">127</text><text class="m" x="755" y="198">128</text>
<text class="a" x="271" y="282">286</text><text class="a" x="512" y="282">343</text><text class="a" x="753" y="282">286</text><text class="a" x="995" y="282">343</text>
<text class="b" x="271" y="295">182147</text><text class="b" x="512" y="295">183519</text><text class="b" x="753" y="295">184663</text><text class="b" x="995" y="295">186035</text>
<text class="c" x="271" y="308">0.00%</text><text class="c" x="512" y="308">0.00%</text><text class="c" x="753" y="308">0.00%</text><text class="c" x="995" y="308">0.00%</text>
</g>
<g transform="translate(0,4512)">
<text class="t" x="32" y="185">♩=171</text>
<text class="m" x="32" y="198">129</text>
<text class="a" x="271" y="282">80</text>
<text class="b" x="271" y="295">186355</text>
<text class="c" x="271" y="308">0.00%</text>
</g>
</svg>
</body></html>
